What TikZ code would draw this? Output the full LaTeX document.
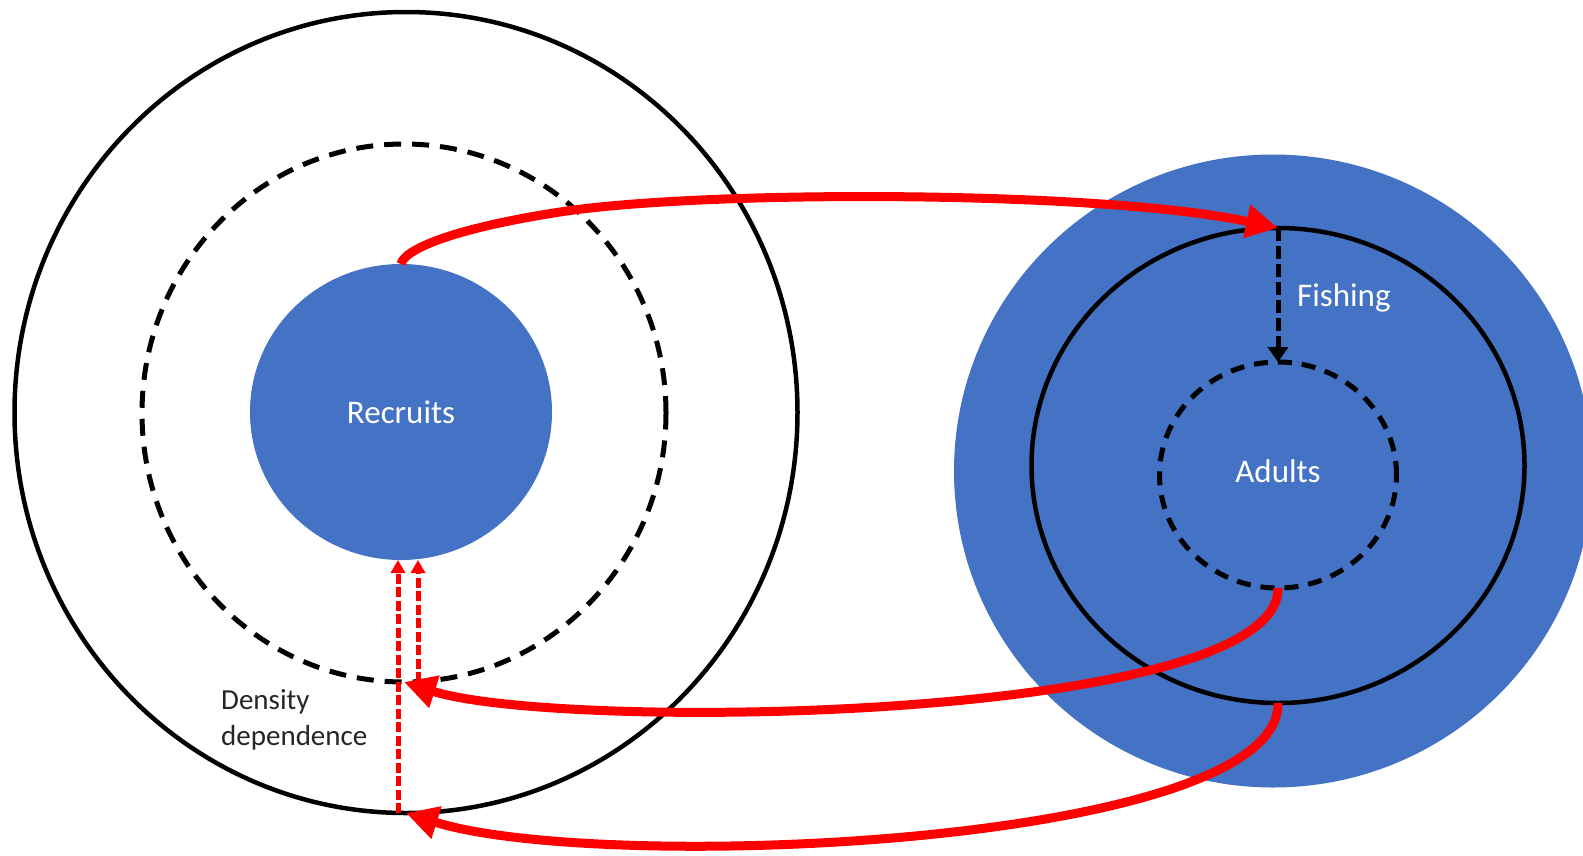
\documentclass[tikz,border=0pt]{standalone}
\usepackage{fontspec}
\setmainfont{Carlito}
\usetikzlibrary{arrows.meta,shapes.geometric}
\definecolor{ofblue}{HTML}{4472C4}
\definecolor{ofred}{HTML}{FF0000}
\begin{document}
\begin{tikzpicture}[x=1pt,y=-1pt,
  bigring/.style={ellipse, draw=black, line width=4.5pt, inner sep=0pt, outer sep=0pt},
  dashring/.style={ellipse, draw=black, line width=5pt, dash pattern=on 17pt off 11pt, inner sep=0pt, outer sep=0pt},
  dashringsmall/.style={ellipse, draw=black, line width=5pt, dash pattern=on 14pt off 10pt, inner sep=0pt, outer sep=0pt},
  bluedisc/.style={ellipse, fill=ofblue, inner sep=0pt, outer sep=0pt, text=white, font=\fontsize{33}{40}\selectfont},
  whitelabel/.style={text=white, inner sep=0pt, font=\fontsize{33}{40}\selectfont},
  darklabel/.style={text=black!85, inner sep=0pt, align=left, font=\fontsize{29}{36}\selectfont},
  redarrow/.style={draw=ofred, line width=9pt, -{Triangle[length=32pt,width=32pt]}},
  reddash/.style={draw=ofred, line width=5pt, dash pattern=on 10pt off 3.5pt, -{Triangle[length=13pt,width=14pt]}},
  fisharrow/.style={draw=black, line width=5pt, dash pattern=on 13pt off 5pt, -{Triangle[length=15pt,width=20pt]}}
]
\clip (0,0) rectangle (1583,855);
\fill[white] (0,0) rectangle (1583,855);

% left group
\node[bigring, minimum width=783pt, minimum height=801pt] (big) at (406,412.5) {};
\node[dashring, minimum width=524pt, minimum height=538pt] (dd) at (404,413) {};
\node[bluedisc, minimum width=302pt, minimum height=296pt] (rec) at (401,412) {Recruits};

% right group
\node[bluedisc, minimum width=638pt, minimum height=633pt] (adl) at (1273,471) {};
\node[bigring, minimum width=493pt, minimum height=475pt] (ring) at (1278,465.5) {};
\node[dashringsmall, minimum width=237pt, minimum height=226pt] (adults) at (1278,475) {};
\node[whitelabel] (adultslabel) at ([yshift=4pt]adults.center) {Adults};

% labels
\node[whitelabel, anchor=west] (fish) at (1297,298) {Fishing};
\node[darklabel, anchor=north west] (dens) at (221,689) {Density\\dependence};

% connectors
\draw[fisharrow] (ring.north) -- (adults.north);
\draw[redarrow] (rec.north) .. controls (404,250) and (450,229) .. (560,212)
  .. controls (700,190) and (1100,190) .. (ring.north);
\draw[redarrow] (adults.south) .. controls (1280,722) and (560,732) .. (dd.south);
\draw[redarrow] (ring.south) .. controls (1280,846) and (600,874) .. (big.south);
\draw[reddash] ([xshift=-8pt]big.south) -- ([xshift=-3pt]rec.south);
\draw[reddash] ([xshift=14pt]dd.south) -- ([xshift=17pt]rec.south);
\end{tikzpicture}
\end{document}
